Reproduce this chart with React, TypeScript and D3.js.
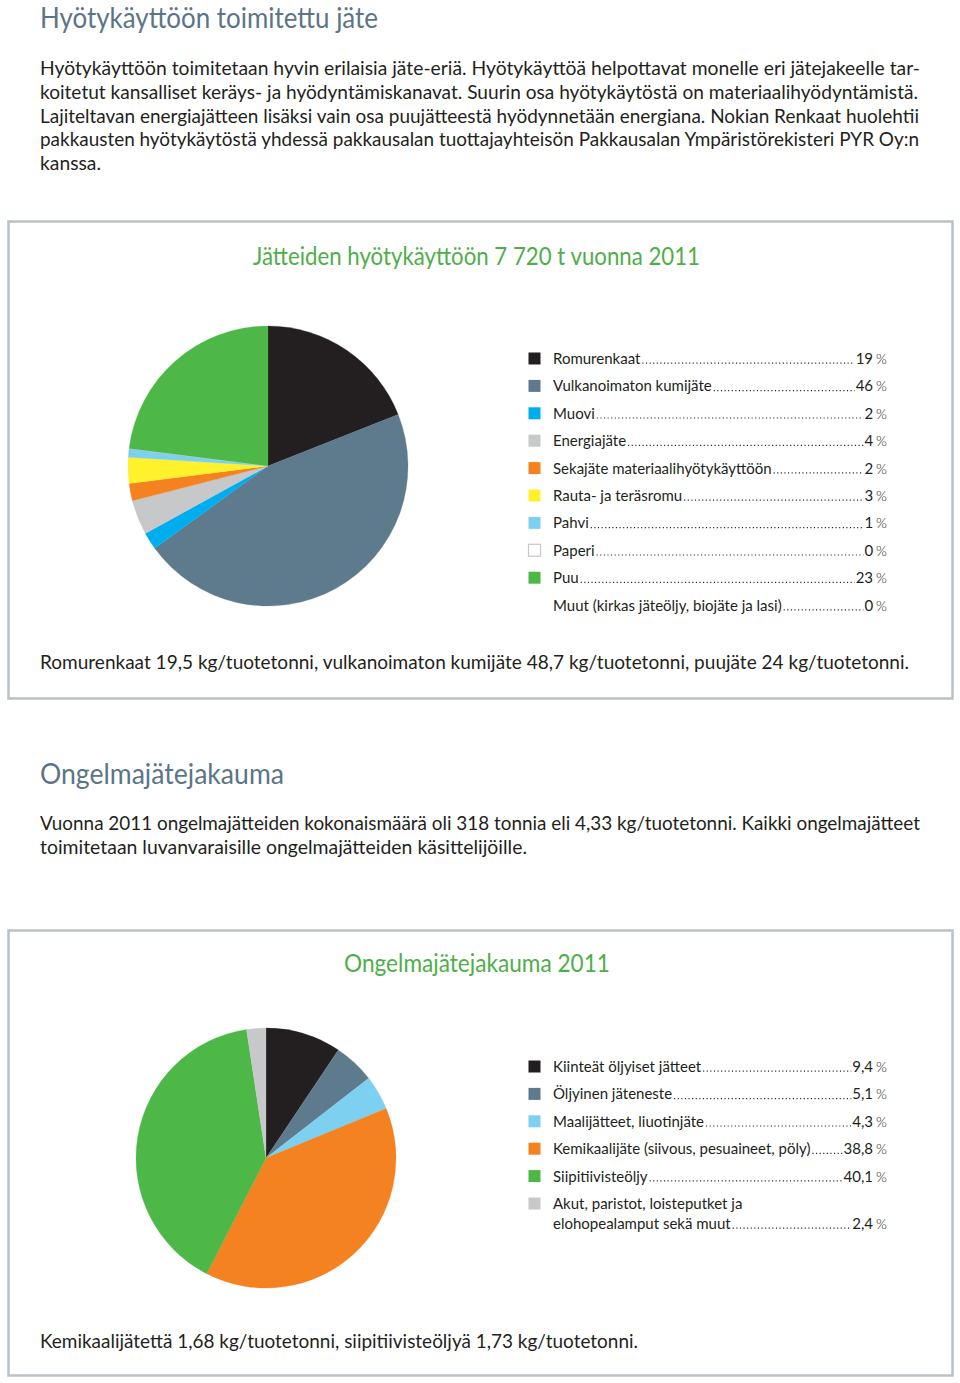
import React, { useEffect, useRef } from "react";
import * as d3 from "d3";

const W = 960;
const H = 1383;

const pie1Labels = [
  "Romurenkaat",
  "Vulkanoimaton kumijäte",
  "Muovi",
  "Energiajäte",
  "Sekajäte materiaalihyötykäyttöön",
  "Rauta- ja teräsromu",
  "Pahvi",
  "Paperi",
  "Puu",
  "Muut (kirkas jäteöljy, biojäte ja lasi)",
];
const pie1Values = [19, 46, 2, 4, 2, 3, 1, 0, 23, 0];
const pie1ValueText = ["19", "46", "2", "4", "2", "3", "1", "0", "23", "0"];
const pie1Colors = ["#231f20", "#5e7a8d", "#00aeef", "#c7c8ca", "#f58220", "#fff22d", "#7dd0f0", "#ffffff", "#4db848", "none"];

const pie2Labels = [
  ["Kiinteät öljyiset jätteet"],
  ["Öljyinen jäteneste"],
  ["Maalijätteet, liuotinjäte"],
  ["Kemikaalijäte (siivous, pesuaineet, pöly)"],
  ["Siipitiivisteöljy"],
  ["Akut, paristot, loisteputket ja", "elohopealamput sekä muut"],
];
const pie2Values = [9.4, 5.1, 4.3, 38.8, 40.1, 2.4];
const pie2ValueText = ["9,4", "5,1", "4,3", "38,8", "40,1", "2,4"];
const pie2Colors = ["#231f20", "#5e7a8d", "#7dd0f0", "#f58220", "#4db848", "#c7c8ca"];

const para1 = [
  "Hyötykäyttöön toimitetaan hyvin erilaisia jäte-eriä. Hyötykäyttöä helpottavat monelle eri jätejakeelle tar-",
  "koitetut kansalliset keräys- ja hyödyntämiskanavat. Suurin osa hyötykäytöstä on materiaalihyödyntämistä.",
  "Lajiteltavan energiajätteen lisäksi vain osa puujätteestä hyödynnetään energiana. Nokian Renkaat huolehtii",
  "pakkausten hyötykäytöstä yhdessä pakkausalan tuottajayhteisön Pakkausalan Ympäristörekisteri PYR Oy:n",
  "kanssa.",
];
const para1Widths = [880, 878, 879, 879, 61];

const para2 = [
  "Vuonna 2011 ongelmajätteiden kokonaismäärä oli 318 tonnia eli 4,33 kg/tuotetonni. Kaikki ongelmajätteet",
  "toimitetaan luvanvaraisille ongelmajätteiden käsittelijöille.",
];
const para2Widths = [880, 487];

const FONT = "Lato, 'Noto Sans', sans-serif";

export default function App() {
  const ref = useRef<SVGSVGElement>(null);

  useEffect(() => {
    const svg = d3.select(ref.current);
    svg.selectAll("*").remove();

    const txt = (x: number, y: number, s: string, size: number, color: string, len?: number, anchor = "start") => {
      const t = svg
        .append("text")
        .attr("x", x)
        .attr("y", y)
        .attr("font-family", FONT)
        .attr("font-size", size)
        .attr("fill", color)
        .attr("text-anchor", anchor)
        .text(s);
      if (len) t.attr("textLength", len).attr("lengthAdjust", "spacingAndGlyphs");
      return t;
    };

    // Headings and paragraphs
    txt(40, 28, "Hyötykäyttöön toimitettu jäte", 28, "#5b7586", 338);
    para1.forEach((l, i) => txt(40, 75 + i * 23.8, l, 19, "#231f20", para1Widths[i]));

    txt(40, 784, "Ongelmajätejakauma", 28, "#5b7586", 244);
    para2.forEach((l, i) => txt(40, 830 + i * 24, l, 19, "#231f20", para2Widths[i]));

    // Boxes
    svg.append("rect").attr("x", 8.5).attr("y", 221.5).attr("width", 944).attr("height", 477)
      .attr("fill", "none").attr("stroke", "#b9c1c9").attr("stroke-width", 2.5);
    svg.append("rect").attr("x", 8.5).attr("y", 930.5).attr("width", 944).attr("height", 445)
      .attr("fill", "none").attr("stroke", "#b9c1c9").attr("stroke-width", 2.5);

    txt(253, 265, "Jätteiden hyötykäyttöön 7 720 t vuonna 2011", 25, "#4fae4a", 447);
    txt(344, 972, "Ongelmajätejakauma 2011", 25, "#4fae4a", 266);

    txt(40, 669, "Romurenkaat 19,5 kg/tuotetonni, vulkanoimaton kumijäte 48,7 kg/tuotetonni, puujäte 24 kg/tuotetonni.", 19, "#231f20", 869);
    txt(40, 1348, "Kemikaalijätettä 1,68 kg/tuotetonni, siipitiivisteöljyä 1,73 kg/tuotetonni.", 19, "#231f20", 598);

    // Pies
    const drawPie = (cx: number, cy: number, r: number, values: number[], colors: string[]) => {
      const pie = d3.pie<number>().sort(null).value((d) => d);
      const arc = d3.arc<d3.PieArcDatum<number>>().innerRadius(0).outerRadius(r);
      const g = svg.append("g").attr("transform", `translate(${cx},${cy})`);
      g.selectAll("path")
        .data(pie(values))
        .join("path")
        .attr("d", (d) => arc(d) as string)
        .attr("fill", (_, i) => colors[i])
        .attr("stroke", (_, i) => colors[i])
        .attr("stroke-width", 0.3);
    };
    drawPie(268, 466, 140, pie1Values, pie1Colors);
    drawPie(266, 1158, 130, pie2Values, pie2Colors);

    // Legends
    const legendRow = (y: number, lines: string[], val: string, color: string) => {
      if (color !== "none") {
        svg.append("rect").attr("x", 528.5).attr("y", y - 6.5).attr("width", 12).attr("height", 12)
          .attr("fill", color === "#ffffff" ? "#ffffff" : color)
          .attr("stroke", color === "#ffffff" ? "#c7c8ca" : "none")
          .attr("stroke-width", 1.2);
      }
      const base = y + 5;
      lines.forEach((l, i) => {
        if (i < lines.length - 1) txt(553, base + i * 20, l, 15, "#231f20");
      });
      const lastY = base + (lines.length - 1) * 20;
      const t = txt(553, lastY, lines[lines.length - 1], 15, "#231f20");
      const tw = (t.node() as SVGTextElement).getComputedTextLength();
      const pct = txt(887, lastY, "%", 14, "#231f20", undefined, "end").attr("font-weight", 300);
      const pw = (pct.node() as SVGTextElement).getComputedTextLength();
      const v = txt(887 - pw - 3, lastY, val, 15, "#231f20", undefined, "end");
      const vw = (v.node() as SVGTextElement).getComputedTextLength();
      const x1 = 553 + tw + 2;
      const x2 = 887 - pw - 3 - vw - 1;
      svg.append("line").attr("x1", x1).attr("x2", x2).attr("y1", lastY - 0.8).attr("y2", lastY - 0.8)
        .attr("stroke", "#231f20").attr("stroke-width", 1.2).attr("stroke-dasharray", "1.1,2.5");
    };
    pie1Labels.forEach((l, i) => legendRow(359 + i * 27.4, [l], pie1ValueText[i], pie1Colors[i]));
    const ys2 = [1067, 1094.4, 1121.8, 1149.2, 1176.6, 1204];
    pie2Labels.forEach((l, i) => legendRow(ys2[i], l, pie2ValueText[i], pie2Colors[i]));
  }, []);

  return (
    <svg
      ref={ref}
      width={W}
      height={H}
      viewBox={`0 0 ${W} ${H}`}
      style={{ position: "absolute", left: 0, top: 0, background: "#fff" }}
    />
  );
}
